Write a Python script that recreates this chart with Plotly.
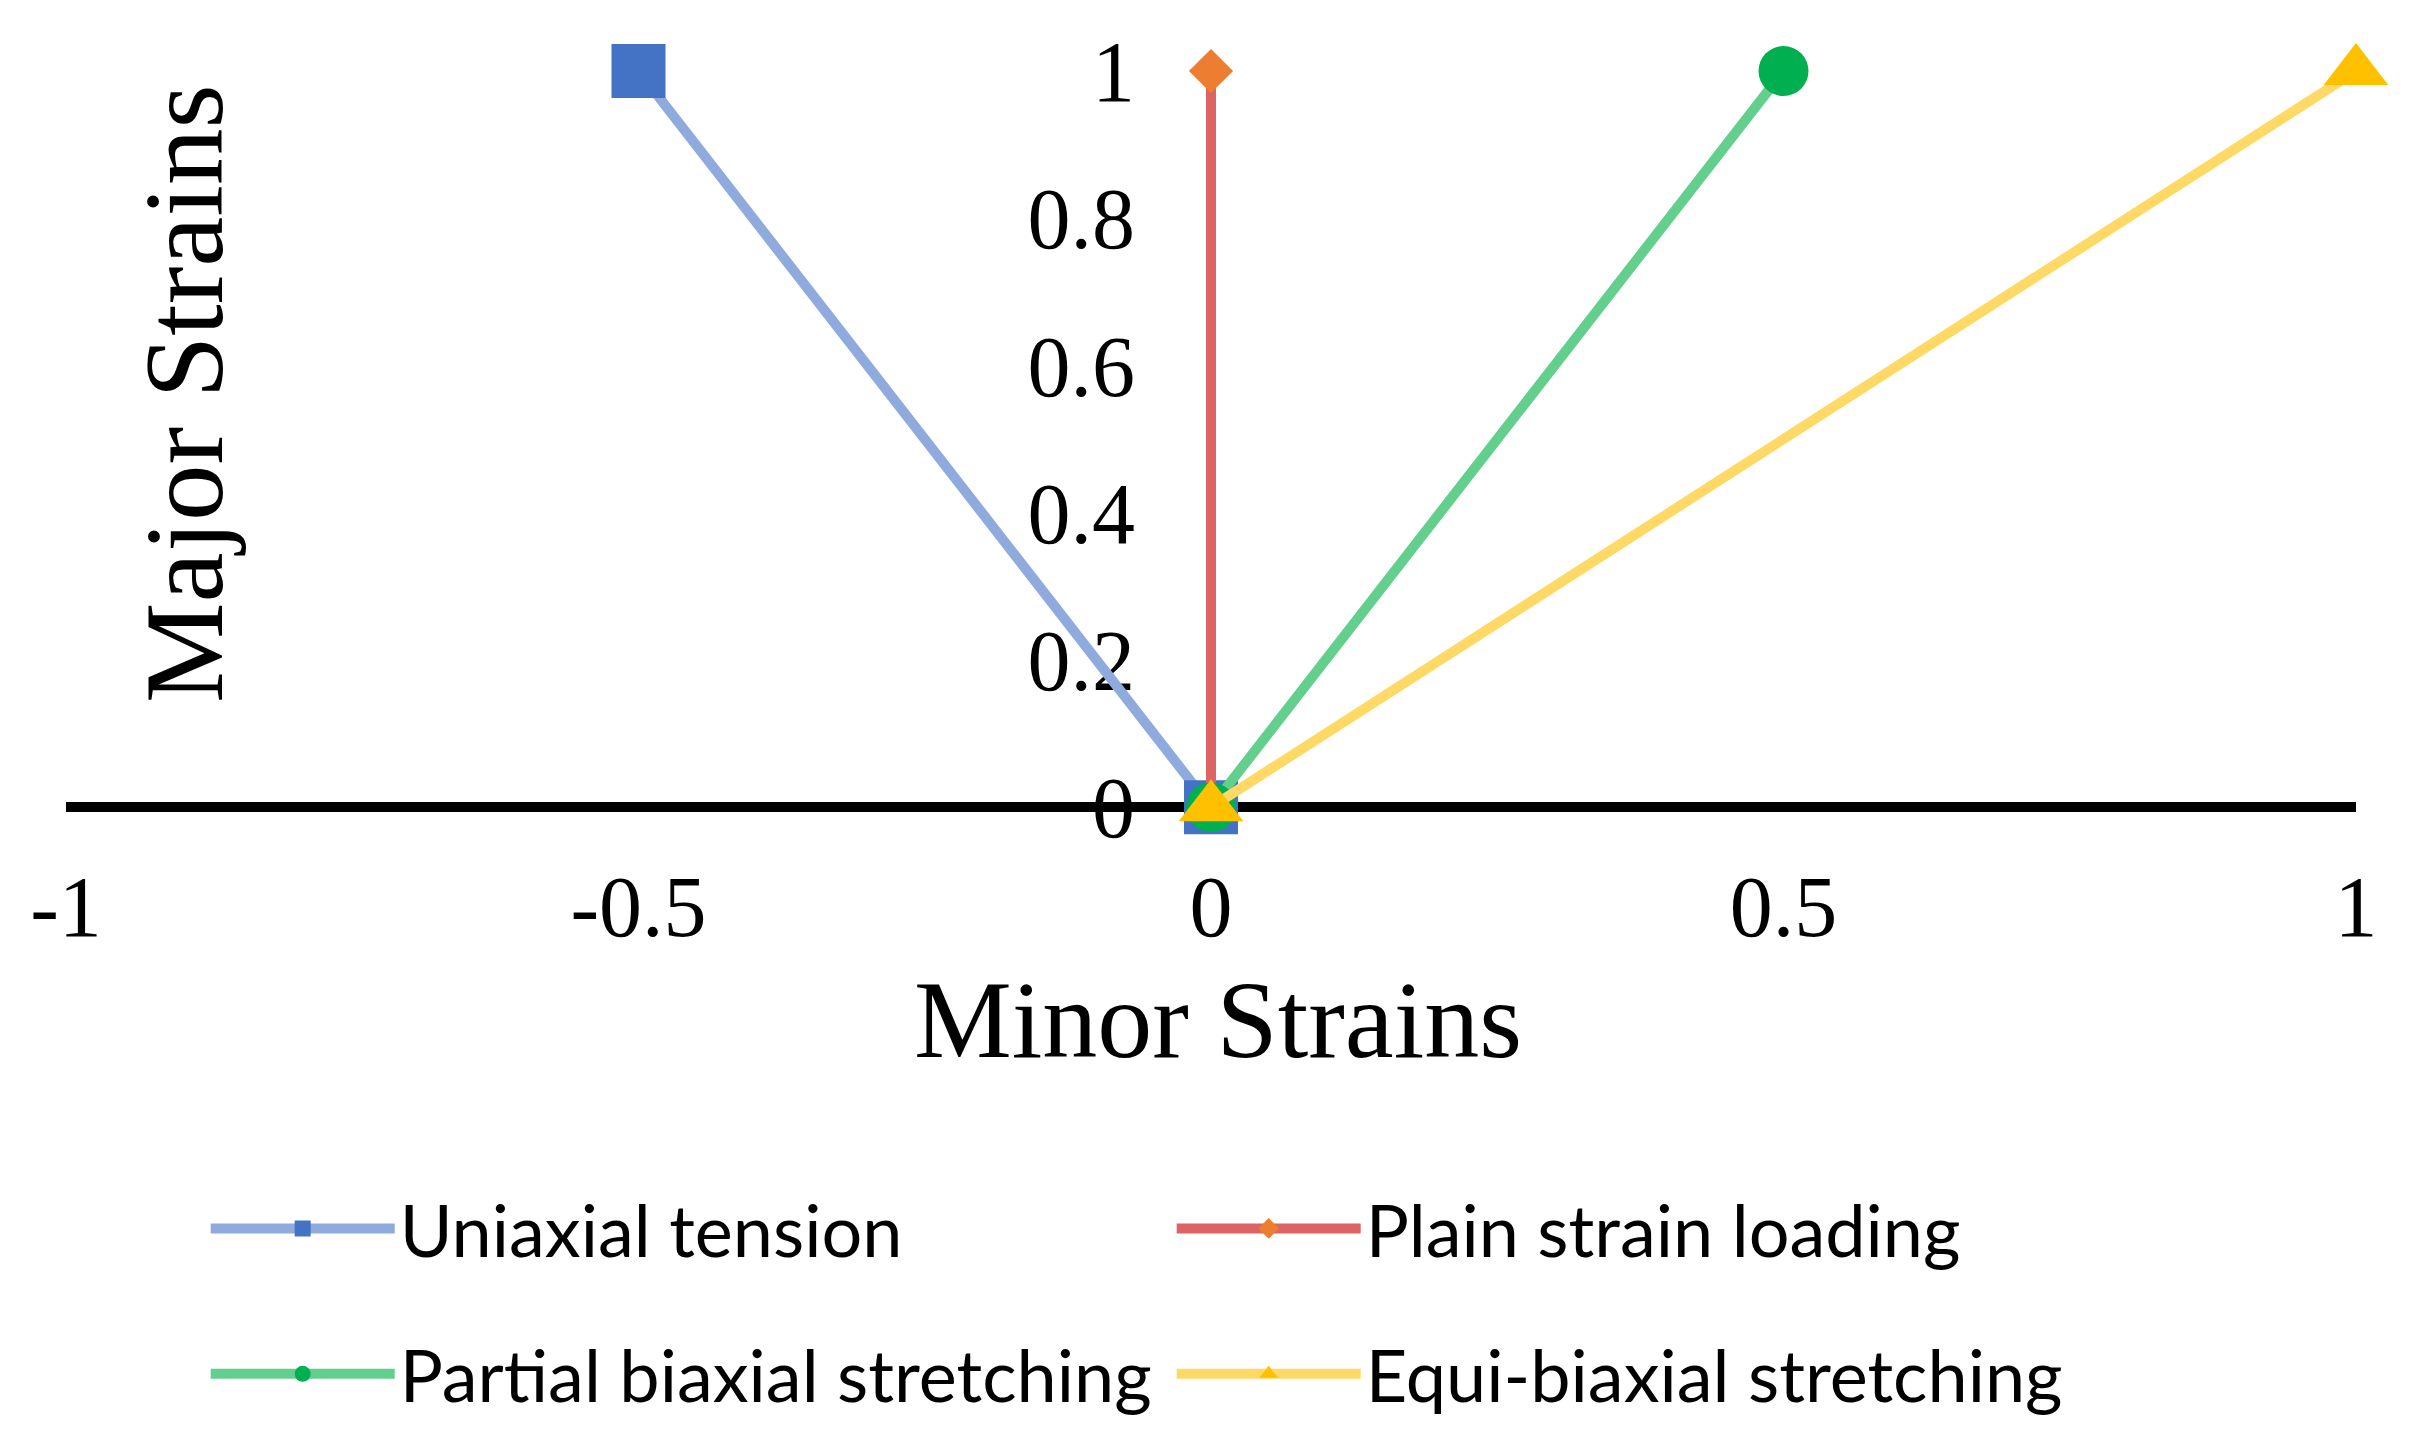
import plotly.graph_objects as go

# ---- data ----
series_names = ["Uniaxial tension", "Plain strain loading",
                "Partial biaxial stretching", "Equi-biaxial stretching"]
minor_uniaxial = [0, -0.5]
major_uniaxial = [0, 1]
minor_plain = [0, 0]
major_plain = [0, 1]
minor_partial = [0, 0.5]
major_partial = [0, 1]
minor_equi = [0, 1]
major_equi = [0, 1]

x_tick_vals = [-1, -0.5, 0, 0.5, 1]
x_tick_text = ["-1", "-0.5", "0", "0.5", "1"]
y_tick_vals = [0, 0.2, 0.4, 0.6, 0.8, 1]
y_tick_text = ["0", "0.2", "0.4", "0.6", "0.8", "1"]

# ---- styles ----
line_colors = ["#8FAADC", "#DD6464", "#62CF8C", "#FFD966"]
marker_colors = ["#4472C4", "#ED7D31", "#00B050", "#FFC000"]
symbols = ["square", "diamond", "circle", "triangle-up"]
marker_sizes = [54, 34, 50, 56]
legends = ["legend", "legend", "legend2", "legend2"]

xs = [minor_uniaxial, minor_plain, minor_partial, minor_equi]
ys = [major_uniaxial, major_plain, major_partial, major_equi]

fig = go.Figure()
for i in range(4):
    fig.add_trace(go.Scatter(
        x=xs[i], y=ys[i], name=series_names[i], mode="lines+markers",
        line=dict(color=line_colors[i], width=10),
        marker=dict(symbol=symbols[i], size=marker_sizes[i], color=marker_colors[i],
                    line=dict(width=0)),
        cliponaxis=False, legend=legends[i],
    ))

serif = "Liberation Serif"
legend_style = dict(orientation="h", x=0.061, xanchor="left", yanchor="middle",
                    entrywidth=767, entrywidthmode="pixels", itemwidth=184,
                    font=dict(family="Lato", size=72, color="black"),
                    bgcolor="rgba(0,0,0,0)", borderwidth=0)

fig.update_layout(
    width=2414, height=1450,
    margin=dict(l=58, r=66, t=63, b=636),
    plot_bgcolor="white", paper_bgcolor="white",
    showlegend=True,
    xaxis=dict(range=[-1, 1], tickvals=x_tick_vals, ticktext=x_tick_text,
               showgrid=False, zeroline=False, showline=False, ticks="",
               ticklabelstandoff=27,
               tickfont=dict(family=serif, size=86, color="black")),
    yaxis=dict(range=[-0.02, 1], tickvals=y_tick_vals, ticktext=y_tick_text,
               showgrid=False, showline=False, ticks="",
               zeroline=True, zerolinecolor="black", zerolinewidth=10,
               anchor="free", position=0.5, ticklabelstandoff=76,
               tickfont=dict(family=serif, size=86, color="black"),
               layer="below traces"),
    legend=dict(legend_style, y=-0.5415),
    legend2=dict(legend_style, y=-0.735),
    annotations=[
        dict(text="Major Strains", xref="paper", yref="paper", x=0.051, y=0.5697,
             textangle=-90, showarrow=False, xanchor="center", yanchor="middle",
             font=dict(family=serif, size=113, color="black")),
        dict(text="Minor Strains", xref="paper", yref="paper", x=0.503, y=-0.2642,
             showarrow=False, xanchor="center", yanchor="middle",
             font=dict(family=serif, size=110, color="black")),
    ],
)

fig.write_html("out.html")
